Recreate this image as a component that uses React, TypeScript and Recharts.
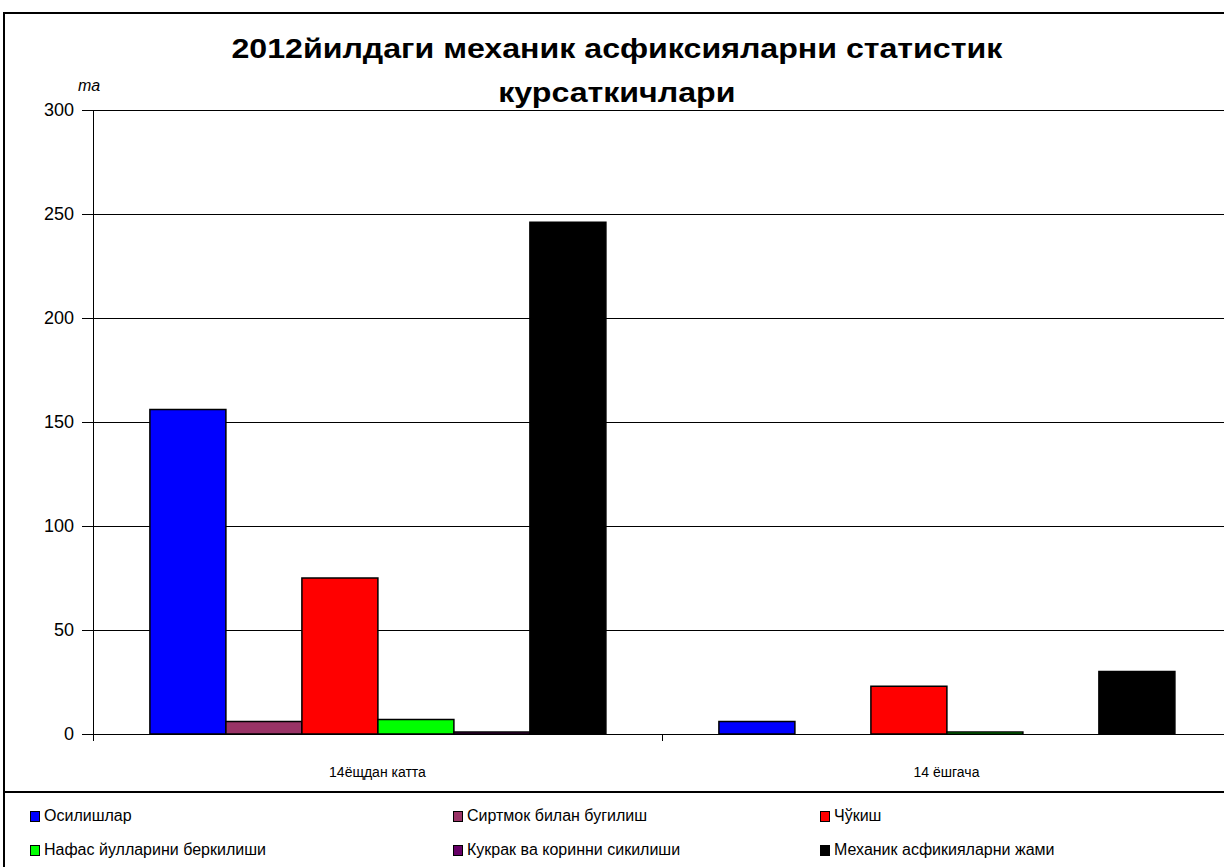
import { BarChart, Bar, XAxis, YAxis, CartesianGrid } from "recharts";

// ---------------------------------------------------------------------------
// Data
// ---------------------------------------------------------------------------

const categories = ["14ёщдан катта", "14 ёшгача"];
const osilishlar = [156, 6];
const sirtmok = [6, 0];
const chukish = [75, 23];
const nafas = [7, 1];
const kukrak = [1, 0];
const jami = [246, 30];

const seriesNames = [
  "Осилишлар",
  "Сиртмок билан бугилиш",
  "Чўкиш",
  "Нафас йулларини беркилиши",
  "Кукрак ва коринни сикилиши",
  "Механик асфикияларни жами",
];
const seriesColors = ["#0000FF", "#993366", "#FF0000", "#00FF00", "#660066", "#000000"];
const seriesValues = [osilishlar, sirtmok, chukish, nafas, kukrak, jami];

const yTicks = [0, 50, 100, 150, 200, 250, 300];

const chartData = categories.map((name, i) => {
  const row: Record<string, string | number> = { name };
  seriesValues.forEach((vals, s) => {
    row[`s${s}`] = vals[i];
  });
  return row;
});

// ---------------------------------------------------------------------------
// Layout
// ---------------------------------------------------------------------------

const CHART_W = 1240;
const CHART_H = 867;
const PLOT_LEFT = 93;
const MARGIN_RIGHT = 9;
const PLOT_W = CHART_W - PLOT_LEFT - MARGIN_RIGHT;
const BAND = PLOT_W / categories.length;
const FONT = "'Liberation Sans', Arial, sans-serif";

function CategoryTick({ x, y, payload }: { x?: number; y?: number; payload?: { value: string } }) {
  if (x === undefined || y === undefined || !payload) return null;
  const bx = Math.round(x - BAND / 2) + 0.5;
  return (
    <g>
      <line x1={bx} y1={y} x2={bx} y2={y + 7} stroke="#000" strokeWidth={1} />
      <text x={x} y={y + 43} textAnchor="middle" fontSize={14} fontFamily={FONT} fill="#000">
        {payload.value}
      </text>
    </g>
  );
}

function LegendBox() {
  const cols = [30, 453, 820];
  const rows = [816, 850];
  return (
    <>
      {seriesNames.map((name, i) => (
        <div
          key={name}
          style={{
            position: "absolute",
            left: cols[i % 3],
            top: rows[Math.floor(i / 3)] - 9,
            display: "flex",
            alignItems: "center",
            fontFamily: FONT,
            fontSize: 16,
            color: "#000",
            whiteSpace: "nowrap",
          }}
        >
          <span
            style={{
              display: "inline-block",
              width: 8,
              height: 9,
              background: seriesColors[i],
              border: "1px solid #000",
              marginRight: 4,
            }}
          />
          {name}
        </div>
      ))}
    </>
  );
}

export default function App() {
  return (
    <div
      style={{
        position: "absolute",
        left: 0,
        top: 0,
        width: 1224,
        height: 867,
        overflow: "hidden",
        background: "#fff",
      }}
    >
      <div
        style={{
          position: "absolute",
          left: 3,
          top: 12,
          width: 1240,
          height: 900,
          border: "2px solid #000",
          boxSizing: "border-box",
        }}
      />
      <div
        style={{
          position: "absolute",
          left: 3,
          top: 791,
          width: 1240,
          height: 0,
          borderTop: "2px solid #000",
        }}
      />
      <div
        style={{
          position: "absolute",
          left: 6,
          top: 27,
          width: 1224,
          textAlign: "center",
          fontFamily: FONT,
          fontWeight: "bold",
          fontSize: 27,
          lineHeight: "44px",
          color: "#000",
          transform: "scaleX(1.19)",
          transformOrigin: "618px 0",
        }}
      >
        2012йилдаги механик асфиксияларни статистик
        <br />
        курсаткичлари
      </div>
      <div
        style={{
          position: "absolute",
          left: 78,
          top: 77,
          fontFamily: FONT,
          fontStyle: "italic",
          fontSize: 16,
          color: "#000",
        }}
      >
        та
      </div>
      <div style={{ position: "absolute", left: 0, top: 0 }}>
        <BarChart
          width={CHART_W}
          height={CHART_H}
          data={chartData}
          margin={{ top: 110, right: MARGIN_RIGHT, bottom: 93, left: 0 }}
          barCategoryGap="10%"
          barGap={0}
        >
          <CartesianGrid
            horizontal
            vertical={false}
            stroke="#000"
            strokeWidth={1}
            shapeRendering="crispEdges"
          />
          <XAxis
            dataKey="name"
            axisLine={{ stroke: "#000", strokeWidth: 1, shapeRendering: "crispEdges" }}
            tickLine={false}
            tickSize={0}
            tickMargin={0}
            height={40}
            tick={<CategoryTick />}
            interval={0}
          />
          <YAxis
            width={PLOT_LEFT}
            domain={[0, 300]}
            ticks={yTicks}
            axisLine={{ stroke: "#000", strokeWidth: 1, shapeRendering: "crispEdges" }}
            tickLine={{ stroke: "#000", strokeWidth: 1, shapeRendering: "crispEdges" }}
            tickSize={11}
            tickMargin={8}
            tick={{ fill: "#000", fontSize: 18, fontFamily: FONT }}
            interval={0}
          />
          {seriesValues.map((_, s) => (
            <Bar
              key={s}
              dataKey={`s${s}`}
              name={seriesNames[s]}
              fill={seriesColors[s]}
              stroke="#000"
              strokeWidth={1.5}
              isAnimationActive={false}
            />
          ))}
        </BarChart>
      </div>
      <LegendBox />
    </div>
  );
}
